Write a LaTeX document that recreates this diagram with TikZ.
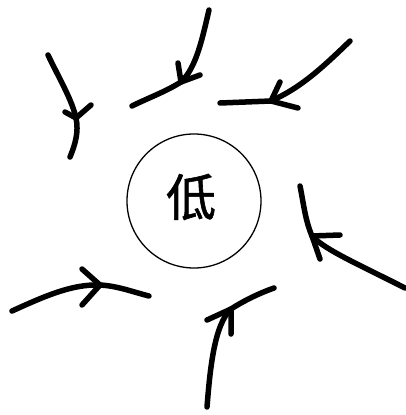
\documentclass[tikz,border=0pt]{standalone}
\usepackage{fontspec}
\newfontfamily\cjk{Noto Sans CJK SC}[FakeBold=1.2]
\begin{document}
\begin{tikzpicture}[x=1pt,y=-1pt,
  wind/.style={line width=5.5pt,line cap=round,line join=round,draw=black},
  ring/.style={circle,draw=black,line width=1.3pt,minimum size=134pt,inner sep=0pt}]
\useasboundingbox[fill=white] (0,0) rectangle (406,415);
\node[ring] (low) at (194,201) {};
\node[font=\cjk\fontsize{50}{50}\selectfont] (lbl) at (191,197) {低};
% 1 top-left
\coordinate (a1s) at (48,55); \coordinate (a1t) at (76,118); \coordinate (a1e) at (70,157);
\draw[wind] (a1s) .. controls (60,80) and (72,100) .. (a1t) .. controls (79,132) and (75,145) .. (a1e);
\draw[wind] (65,112) -- (a1t) -- (91,105);
% 2 top-middle
\coordinate (a2s) at (209,10); \coordinate (a2t) at (181,82); \coordinate (a2e) at (132,106);
\draw[wind] (a2s) .. controls (202,40) and (196,68) .. (a2t) .. controls (165,92) and (148,98) .. (a2e);
\draw[wind] (178,63) -- (a2t) -- (200,75);
% 3 top-right
\coordinate (a3s) at (350,41); \coordinate (a3t) at (271,101); \coordinate (a3e) at (220,103);
\draw[wind] (a3s) .. controls (320,70) and (300,88) .. (a3t) -- (a3e);
\draw[wind] (280,82) -- (a3t) -- (298,108);
% 4 right
\coordinate (a4s) at (405,288); \coordinate (a4t) at (312,236); \coordinate (a4e) at (300,186);
\draw[wind] (a4s) .. controls (360,265) and (325,250) .. (a4t) .. controls (305,220) and (303,200) .. (a4e);
\draw[wind] (340,235) -- (a4t) -- (320,259);
% 5 bottom-right
\coordinate (a5s) at (207,407); \coordinate (a5t) at (231,309); \coordinate (a5e) at (274,288);
\draw[wind] (a5s) .. controls (210,370) and (214,325) .. (a5t) .. controls (245,300) and (260,293) .. (a5e);
\draw[wind] (207,320) -- (a5t) -- (231,334);
% 6 bottom-left
\coordinate (a6s) at (12,311); \coordinate (a6t) at (100,285); \coordinate (a6e) at (149,296);
\draw[wind] (a6s) .. controls (45,296) and (72,284) .. (a6t) .. controls (118,286) and (133,292) .. (a6e);
\draw[wind] (82,269) -- (a6t) -- (82,305);
\end{tikzpicture}
\end{document}
